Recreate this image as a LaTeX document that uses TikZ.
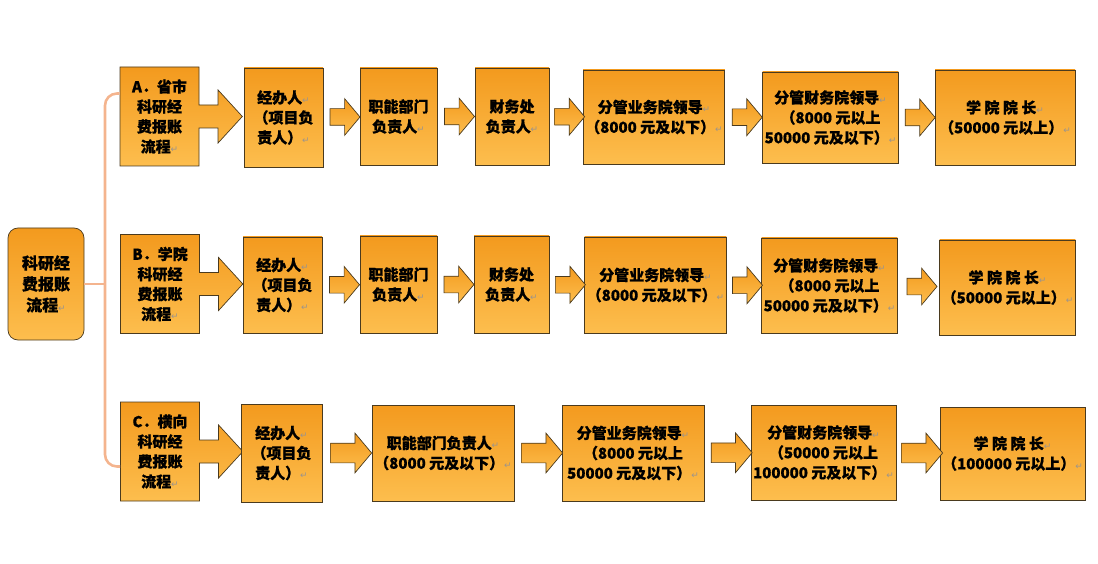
\documentclass[tikz,border=0pt]{standalone}
\usepackage{fontspec}
\usetikzlibrary{shapes.arrows}
\usetikzlibrary{calc}
\usepackage{xcolor}

\newfontfamily\cjk{Noto Sans CJK SC}[BoldFeatures={FakeBold=0.8}]
\newfontfamily\symf{DejaVu Sans}
\definecolor{boxtop}{HTML}{F39A1E}
\definecolor{boxbot}{HTML}{FDBE4E}
\definecolor{boxline}{HTML}{4A3A1E}
\definecolor{bracecol}{HTML}{F4B48E}
\definecolor{retgray}{HTML}{9C948C}
\newcommand\ret{{\symf\mdseries\fontsize{9}{9}\selectfont\textcolor{retgray}{↵}}}

\tikzset{
  box/.style={draw=boxline, line width=0.7pt, top color=boxtop, bottom color=boxbot,
    font=\cjk\bfseries\fontsize{15}{20}\selectfont, align=center, inner sep=2pt},
  lbl/.style={box, arrow box, arrow box arrows={east:43pt from border},
    arrow box shaft width=23pt, arrow box head extend=15pt, arrow box tip angle=95,
    minimum width=79pt, minimum height=99pt},
  flowA/.style={single arrow, draw=boxline, line width=0.7pt, top color=boxtop,
    bottom color=boxbot, inner xsep=0pt, inner ysep=8pt, minimum height=30pt,
    single arrow head extend=10pt, single arrow tip angle=100},
  flowC/.style={flowA, inner ysep=9.5pt, minimum height=41pt},
  brace/.style={draw=bracecol, line width=2.6pt}
}

\begin{document}
\begin{tikzpicture}[x=1pt,y=-1pt]
      \useasboundingbox (0,0) rectangle (1098,564);

      % Root
      \node[box, rounded corners=10pt, minimum width=76pt, minimum height=112pt,
        font=\cjk\bfseries\fontsize{16}{21}\selectfont] (root) at (46,284) {科研经\\费报账\\流程\ret};

      % Row A
      \node[lbl] (la) at (159.5,116.5) {A．省市\\科研经\\费报账\\流程\ret};
      \node[box, minimum width=79pt, minimum height=99pt] (a1) at (283.5,117.5) {经办人\ret\\（项目负\\责人）\ret};
      \node[box, minimum width=77pt, minimum height=97pt] (a2) at (398.5,116.5) {职能部门\\负责人\ret};
      \node[box, minimum width=74pt, minimum height=97pt] (a3) at (512,116.5) {财务处\\负责人\ret};
      \node[box, minimum width=138pt, minimum height=94pt] (a4) at (654,117) {分管业务院领导\ret\\（8000 元及以下）\ret};
      \node[box, minimum width=135pt, minimum height=91pt] (a5) at (830.5,117.5) {分管财务院领导\ret\\（8000 元以上\\50000 元及以下）\ret};
      \node[box, minimum width=140pt, minimum height=95pt] (a6) at (1005,117.5) {学 院 院 长\ret\\（50000 元以上）\ret};

      % Row B
      \node[lbl] (lb) at (160,284) {B．学院\\科研经\\费报账\\流程\ret};
      \node[box, minimum width=79pt, minimum height=96pt] (b1) at (282.5,285) {经办人\ret\\（项目负\\责人）\ret};
      \node[box, minimum width=77pt, minimum height=97pt] (b2) at (398.5,284.5) {职能部门\\负责人\ret};
      \node[box, minimum width=75pt, minimum height=97pt] (b3) at (511.5,284.5) {财务处\\负责人\ret};
      \node[box, minimum width=141pt, minimum height=96pt] (b4) at (655.5,285) {分管业务院领导\ret\\（8000 元及以下）\ret};
      \node[box, minimum width=135pt, minimum height=95pt] (b5) at (829.5,285.5) {分管财务院领导\ret\\（8000 元以上\\50000 元及以下）\ret};
      \node[box, minimum width=135pt, minimum height=95pt] (b6) at (1007.5,287.5) {学 院 院 长\ret\\（50000 元以上）\ret};

      % Row C
      \node[lbl] (lc) at (160,451.5) {C．横向\\科研经\\费报账\\流程\ret};
      \node[box, minimum width=81pt, minimum height=98pt] (c1) at (281.5,453) {经办人\ret\\（项目负\\责人）\ret};
      \node[box, minimum width=142pt, minimum height=96pt] (c2) at (443,453) {职能部门负责人\ret\\（8000 元及以下）\ret};
      \node[box, minimum width=142pt, minimum height=96pt] (c3) at (633,453) {分管业务院领导\ret\\（8000 元以上\\50000 元及以下）\ret};
      \node[box, minimum width=143pt, minimum height=95pt] (c4) at (823.5,452.5) {分管财务院领导\ret\\（50000 元以上\\100000 元及以下）\ret};
      \node[box, minimum width=141pt, minimum height=93pt] (c5) at (1012.5,453.5) {学 院 院 长\ret\\（100000 元以上）\ret};

      % Arrows between boxes
      \foreach \i [evaluate=\i as \j using int(\i+1)] in {1,...,5}
      {
        \node[flowA] (fa\i) at ($(a\i.east)!0.5!(a\j.west)$) {};
        \node[flowA] (fb\i) at ($(b\i.east)!0.5!(b\j.west)$) {};
      }
      \foreach \i [evaluate=\i as \j using int(\i+1)] in {1,...,4}
        \node[flowC] (fc\i) at ($(c\i.east)!0.5!(c\j.west)$) {};

      % Bracket
      \coordinate (spine) at (105,284);
      \draw[brace] (root.east) -- (root.east -| spine);
      \draw[brace, rounded corners=12pt] ($(la.west)+(0,-23)$) -| (spine) |- ($(lc.west)+(0,15)$);
  \end{tikzpicture}
\end{document}
